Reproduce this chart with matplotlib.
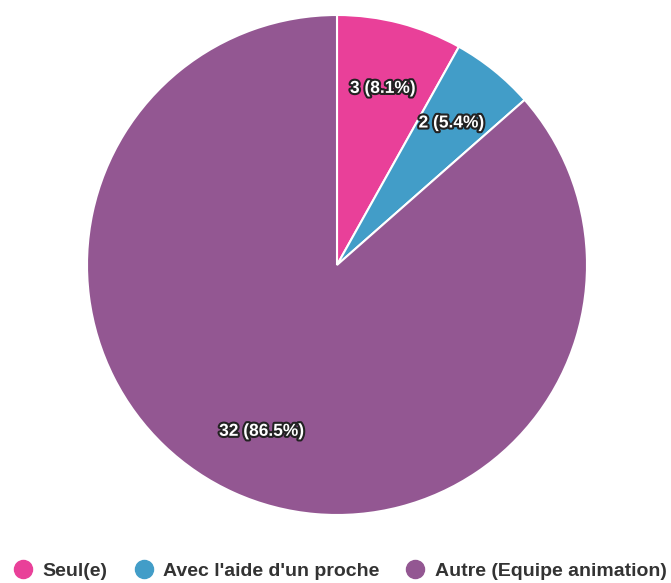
import matplotlib.pyplot as plt
import matplotlib.patheffects as pe
from matplotlib.lines import Line2D

labels = ["Seul(e)", "Avec l'aide d'un proche", "Autre (Equipe animation)"]
counts = [3, 2, 32]
colors = ["#E94099", "#429DC8", "#935792"]

plt.rcParams["font.family"] = ["Liberation Sans", "DejaVu Sans"]

fig = plt.figure(figsize=(6.71, 5.83), dpi=100)
ax = fig.add_axes([87 / 671, 68 / 583, 500 / 671, 500 / 583])

total = sum(counts)


def fmt(pct):
    n = round(pct * total / 100)
    return "%d (%.1f%%)" % (n, pct)


wedges, texts, autotexts = ax.pie(
    counts, colors=colors, startangle=90, counterclock=False,
    autopct=fmt, pctdistance=0.73, radius=1,
    wedgeprops=dict(edgecolor="white", linewidth=1.5))
for t in autotexts:
    t.set_color("white")
    t.set_fontsize(12.5)
    t.set_fontweight("bold")
    t.set_path_effects([pe.withStroke(linewidth=3, foreground="#222222")])
ax.set_xlim(-1, 1)
ax.set_ylim(-1, 1)
ax.set_aspect("equal")

handles = [Line2D([], [], marker="o", linestyle="", markersize=13,
                  markerfacecolor=c, markeredgecolor=c) for c in colors]
fig.legend(handles, labels, loc="center", bbox_to_anchor=(340 / 671, 1 - 571 / 583),
           ncol=3, frameon=False, handlelength=1.0, handletextpad=0.5,
           columnspacing=1.35, borderpad=0, borderaxespad=0,
           prop=dict(size=14, weight="bold"), labelcolor="#333333")

fig.savefig("out.png", dpi=100)
